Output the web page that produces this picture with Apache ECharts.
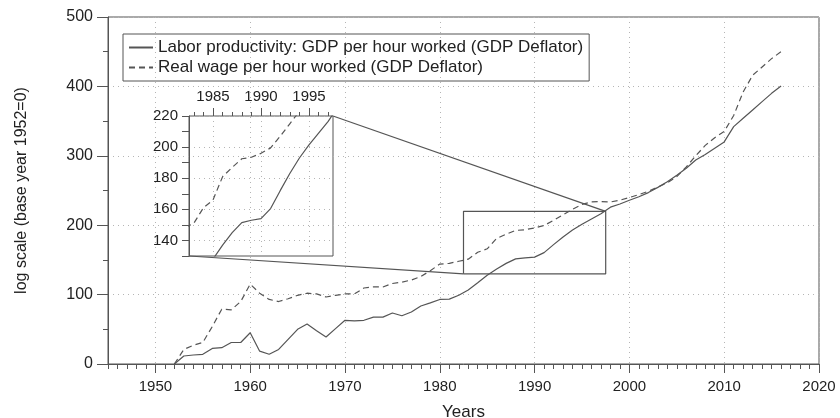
<!DOCTYPE html>
<html>
<head>
<meta charset="utf-8">
<title>Labor productivity vs real wage</title>
<script src="https://cdn.jsdelivr.net/npm/echarts@6/dist/echarts.min.js"></script>
<style>
  html, body { margin: 0; padding: 0; background: #fff; }
  #chart { width: 840px; height: 418px; }
</style>
</head>
<body>
<div id="chart"></div>
<script>
// data (log scale, base year 1952 = 0)
var years = [
  1952, 1953, 1954, 1955, 1956, 1957, 1958, 1959, 1960, 1961,
  1962, 1963, 1964, 1965, 1966, 1967, 1968, 1969, 1970, 1971,
  1972, 1973, 1974, 1975, 1976, 1977, 1978, 1979, 1980, 1981,
  1982, 1983, 1984, 1985, 1986, 1987, 1988, 1989, 1990, 1991,
  1992, 1993, 1994, 1995, 1996, 1997, 1998, 1999, 2000, 2001,
  2002, 2003, 2004, 2005, 2006, 2007, 2008, 2009, 2010, 2011,
  2012, 2013, 2014, 2015, 2016
];
var productivity = [
  0, 11.5, 13, 14, 22.5, 23.5, 31, 31, 45, 18.5,
  14, 21, 35.5, 50, 57.5, 48, 39, 51, 63, 62,
  63, 67.5, 67.5, 73.5, 69.5, 75, 83.5, 88, 93, 93.5,
  99, 106.5, 117, 128, 137, 145, 151.5, 153, 154, 160.5,
  172, 183, 193, 201.5, 209, 216.5, 226, 230.5, 236, 241,
  247, 254.5, 262.5, 272, 282, 294, 302, 311, 320, 342,
  354, 366, 378, 390, 400.5
];
var realWage = [
  0, 21, 27, 31, 54, 79, 78, 90, 115, 102,
  93, 90, 94, 99, 102, 101, 96.5, 99, 101, 101,
  109.5, 111, 111, 116, 118, 121, 126, 134.5, 144, 145,
  148, 151, 161, 166, 181, 187, 192.5, 193.5, 196, 199.5,
  207, 215, 223, 230, 233.5, 234, 233.5, 236, 240, 244,
  249, 255, 261, 270, 284, 300, 315, 326, 335, 358,
  392, 416, 428, 440, 450
];
var seriesNames = [
  'Labor productivity: GDP per hour worked (GDP Deflator)',
  'Real wage per hour worked (GDP Deflator)'
];
// zoomed window shown in the inset
var zoomYears = [1982.5, 1997.5];
var zoomValues = [130, 220];

function pairs(vals) {
  return years.map(function (y, i) { return [y, vals[i]]; });
}

var FONT = "'Liberation Sans', Arial, Helvetica, sans-serif";
var INK = '#222';
var AXIS = '#555';
var GRIDC = '#b5b5b5';

// main plot area
var mainLeft = 108, mainRight = 21, mainTop = 17, mainBottom = 54;
var pxPerYear = (840 - mainLeft - mainRight) / 75;
// inset area
var insLeft = 189, insTop = 116, insW = 144, insH = 140;
var insPx = insW / (zoomYears[1] - zoomYears[0]);

var solid = { color: AXIS, width: 1.2, type: 'solid' };
var dashed = { color: AXIS, width: 1.2, type: [6, 4] };

function plain(v) { return String(v); }

function gridAt(cfg) {
  cfg.outerBoundsMode = 'none';
  cfg.containLabel = false;
  return cfg;
}

var chart = echarts.init(document.getElementById('chart'));

var option = {
  animation: false,
  backgroundColor: '#fff',
  textStyle: { fontFamily: FONT, color: INK },
  legend: {
    data: seriesNames,
    orient: 'vertical',
    left: 123,
    top: 34,
    padding: [5, 6, 5, 5],
    itemGap: 3,
    itemWidth: 24,
    itemHeight: 15,
    borderColor: AXIS,
    borderWidth: 1,
    itemStyle: { opacity: 0 },
    textStyle: { fontFamily: FONT, fontSize: 17, color: INK }
  },
  grid: [
    gridAt({ left: mainLeft, right: mainRight, top: mainTop, bottom: mainBottom, show: true, borderColor: AXIS, borderWidth: 1 }),
    gridAt({ left: mainLeft + 5 * pxPerYear, right: mainRight, top: mainTop, bottom: mainBottom }),
    gridAt({ left: insLeft, top: insTop, width: insW, height: insH, show: true, borderColor: AXIS, borderWidth: 1 }),
    gridAt({ left: insLeft + 0.5 * insPx, top: insTop, width: 14 * insPx, height: insH }),
    gridAt({ left: insLeft + 2.5 * insPx, top: insTop, width: 10 * insPx, height: insH })
  ],
  xAxis: [
    { // main: yearly minor ticks
      type: 'value', gridIndex: 0, min: 1945, max: 2020, interval: 1,
      name: 'Years', nameLocation: 'middle', nameGap: 40,
      nameTextStyle: { fontSize: 17, color: INK, fontFamily: FONT },
      axisLine: { onZero: false, lineStyle: { color: AXIS } },
      axisTick: { length: 5, lineStyle: { color: AXIS } },
      axisLabel: { show: false },
      splitLine: { show: false }
    },
    { // main: decade ticks, labels, grid
      type: 'value', gridIndex: 1, min: 1950, max: 2020, interval: 10,
      axisLine: { show: false, onZero: false },
      axisTick: { length: 9, lineStyle: { color: AXIS } },
      axisLabel: { fontSize: 15, color: INK, margin: 15, fontFamily: FONT, formatter: plain },
      splitLine: { show: true, lineStyle: { color: GRIDC, type: [1, 4] } }
    },
    { type: 'value', gridIndex: 2, min: zoomYears[0], max: zoomYears[1], show: false },
    { // inset: yearly ticks on top
      type: 'value', gridIndex: 3, position: 'top', min: 1983, max: 1997, interval: 1,
      axisLine: { show: false, onZero: false },
      axisTick: { length: 4, lineStyle: { color: AXIS } },
      axisLabel: { show: false },
      splitLine: { show: false }
    },
    { // inset: 5-year ticks, labels, grid
      type: 'value', gridIndex: 4, position: 'top', min: 1985, max: 1995, interval: 5,
      axisLine: { show: false, onZero: false },
      axisTick: { length: 8, lineStyle: { color: AXIS } },
      axisLabel: { fontSize: 15, color: INK, margin: 12, fontFamily: FONT, formatter: plain },
      splitLine: { show: true, lineStyle: { color: GRIDC, type: [1, 4] } }
    }
  ],
  yAxis: [
    {
      type: 'value', gridIndex: 0, min: 0, max: 500, interval: 100,
      name: 'log scale (base year 1952=0)', nameLocation: 'middle', nameGap: 78,
      nameTextStyle: { fontSize: 16, color: INK, fontFamily: FONT },
      axisLine: { show: true, onZero: false, lineStyle: { color: AXIS } },
      axisTick: { show: true, length: 11, lineStyle: { color: AXIS } },
      minorTick: { show: true, splitNumber: 2, length: 5, lineStyle: { color: AXIS } },
      axisLabel: { fontSize: 16, color: INK, margin: 15, fontFamily: FONT },
      splitLine: { show: true, lineStyle: { color: GRIDC, type: [1, 4] } }
    },
    { type: 'value', gridIndex: 1, min: 0, max: 1, show: false },
    {
      type: 'value', gridIndex: 2, min: zoomValues[0], max: zoomValues[1], interval: 10,
      axisLine: { show: true, onZero: false, lineStyle: { color: AXIS } },
      axisTick: { show: true, length: 7, lineStyle: { color: AXIS } },
      axisLabel: {
        fontSize: 15, color: INK, margin: 11, fontFamily: FONT,
        formatter: function (v) { return (v >= 140 && v % 20 === 0) ? String(v) : ''; }
      },
      splitLine: { show: true, lineStyle: { color: ['rgba(0,0,0,0)', GRIDC], type: [1, 4] } }
    },
    { type: 'value', gridIndex: 3, min: 0, max: 1, show: false },
    { type: 'value', gridIndex: 4, min: 0, max: 1, show: false }
  ],
  series: [
    { name: seriesNames[0], type: 'line', xAxisIndex: 0, yAxisIndex: 0, data: pairs(productivity),
      symbol: 'none', lineStyle: solid, itemStyle: { color: AXIS }, z: 5 },
    { name: seriesNames[1], type: 'line', xAxisIndex: 0, yAxisIndex: 0, data: pairs(realWage),
      symbol: 'none', lineStyle: dashed, itemStyle: { color: AXIS }, z: 5 },
    { name: seriesNames[0], type: 'line', xAxisIndex: 2, yAxisIndex: 2, data: pairs(productivity),
      symbol: 'none', lineStyle: solid, itemStyle: { color: AXIS }, clip: true, z: 5 },
    { name: seriesNames[1], type: 'line', xAxisIndex: 2, yAxisIndex: 2, data: pairs(realWage),
      symbol: 'none', lineStyle: dashed, itemStyle: { color: AXIS }, clip: true, z: 5 },
    { name: 'zoom box', type: 'line', xAxisIndex: 0, yAxisIndex: 0, symbol: 'none',
      lineStyle: { color: AXIS, width: 1.2 }, z: 4,
      data: [
        [zoomYears[0], zoomValues[0]], [zoomYears[1], zoomValues[0]],
        [zoomYears[1], zoomValues[1]], [zoomYears[0], zoomValues[1]],
        [zoomYears[0], zoomValues[0]]
      ] }
  ]
};

chart.setOption(option);

// connectors between the inset and the zoom box
var a1 = chart.convertToPixel({ gridIndex: 2 }, [zoomYears[0], zoomValues[0]]);
var b1 = chart.convertToPixel({ gridIndex: 0 }, [zoomYears[0], zoomValues[0]]);
var a2 = chart.convertToPixel({ gridIndex: 2 }, [zoomYears[1], zoomValues[1]]);
var b2 = chart.convertToPixel({ gridIndex: 0 }, [zoomYears[1], zoomValues[1]]);
chart.setOption({
  graphic: [
    { type: 'line', shape: { x1: a1[0], y1: a1[1], x2: b1[0], y2: b1[1] }, style: { stroke: AXIS, lineWidth: 1.2 }, z: 4 },
    { type: 'line', shape: { x1: a2[0], y1: a2[1], x2: b2[0], y2: b2[1] }, style: { stroke: AXIS, lineWidth: 1.2 }, z: 4 }
  ]
});
</script>
</body>
</html>
